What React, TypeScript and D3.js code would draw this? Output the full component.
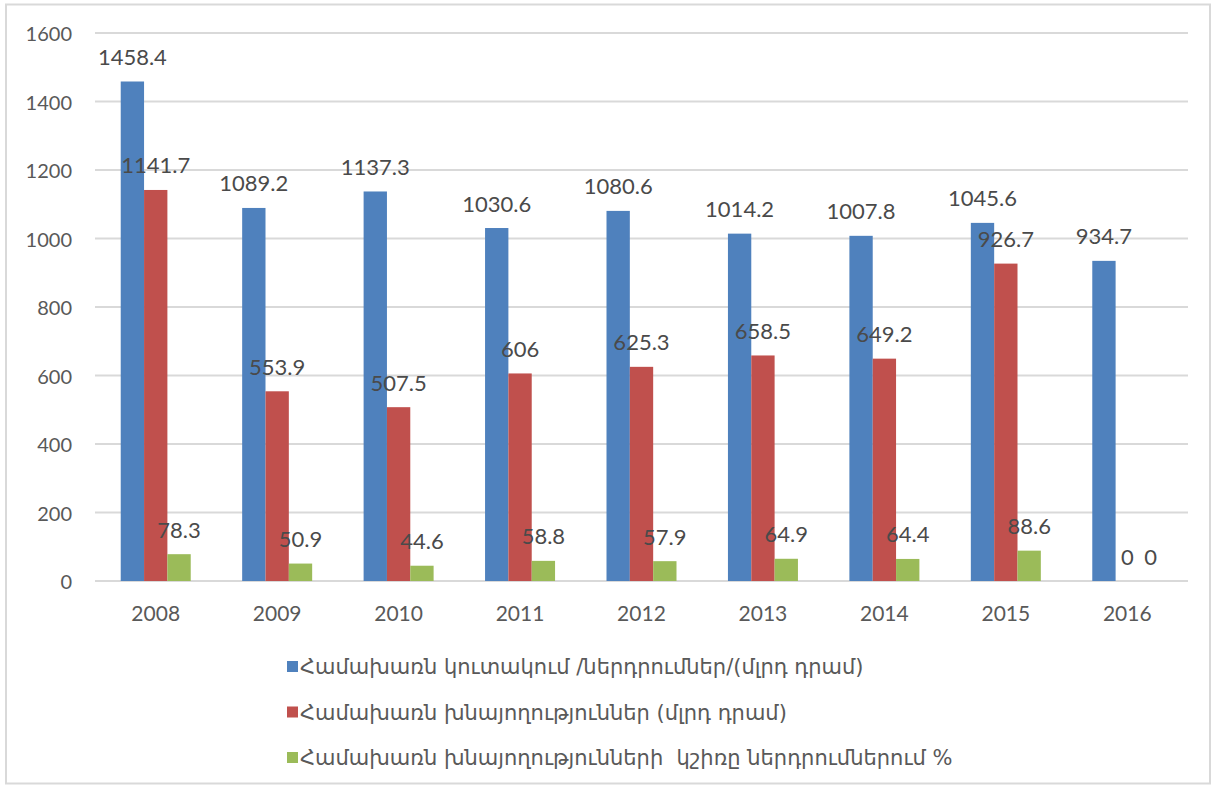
import React from 'react';
import * as d3 from 'd3';

// values
const years = ['2008', '2009', '2010', '2011', '2012', '2013', '2014', '2015', '2016'];
const savingsTotal = [1458.4, 1089.2, 1137.3, 1030.6, 1080.6, 1014.2, 1007.8, 1045.6, 934.7];
const savings = [1141.7, 553.9, 507.5, 606, 625.3, 658.5, 649.2, 926.7, 0];
const savingsShare = [78.3, 50.9, 44.6, 58.8, 57.9, 64.9, 64.4, 88.6, 0];
const yTicks = [0, 200, 400, 600, 800, 1000, 1200, 1400, 1600];

const seriesNames = [
  'Համախառն կուտակում /ներդրումներ/(մլրդ դրամ)',
  'Համախառն խնայողություններ (մլրդ դրամ)',
  'Համախառն խնայողությունների  կշիռը ներդրումներում %',
];
const colors = ['#4F81BD', '#C0504D', '#9BBB59'];
const series = [savingsTotal, savings, savingsShare];

const W = 1215;
const H = 787;
const margin = { left: 95, right: 27, top: 33, bottom: 206 };

export default function App() {
  const x0 = d3.scaleBand().domain(years).range([margin.left, W - margin.right]).padding(0);
  const groupW = 70;
  const x1 = d3
    .scaleBand()
    .domain(['0', '1', '2'])
    .range([(x0.bandwidth() - groupW) / 2, (x0.bandwidth() + groupW) / 2]);
  const y = d3.scaleLinear().domain([0, 1600]).range([H - margin.bottom, margin.top]);

  const textColor = '#595959';
  const numFont = 'Lato, "Liberation Sans", sans-serif';

  return (
    <svg
      width={W}
      height={H}
      style={{ position: 'absolute', left: 0, top: 0, background: '#fff' }}
    >
      <rect x={6} y={4.5} width={W - 11} height={H - 8} fill="#fff" stroke="#D9D9D9" strokeWidth={2} />

      {/* gridlines + y labels */}
      {yTicks.map((t) => (
        <g key={t}>
          <line x1={margin.left} x2={W - margin.right} y1={y(t)} y2={y(t)} stroke="#D9D9D9" strokeWidth={2} />
          <text
            x={72}
            y={y(t)}
            textAnchor="end"
            dominantBaseline="central"
            fontFamily={numFont}
            fontSize={20}
            fill={textColor}
          >
            {t}
          </text>
        </g>
      ))}

      {/* bars */}
      {years.map((yr, i) => (
        <g key={yr} transform={`translate(${x0(yr)},0)`}>
          {series.map((s, k) => (
            <rect
              key={k}
              x={x1(String(k))}
              y={y(s[i])}
              width={x1.bandwidth()}
              height={y(0) - y(s[i])}
              fill={colors[k]}
            />
          ))}
          <text
            x={x0.bandwidth() / 2}
            y={612}
            textAnchor="middle"
            dominantBaseline="central"
            fontFamily={numFont}
            fontSize={21}
            fill={textColor}
          >
            {yr}
          </text>
        </g>
      ))}

      {/* data labels */}
      {years.map((yr, i) => (
        <g key={'l' + yr} transform={`translate(${x0(yr)},0)`}>
          {series.map((s, k) => (
            <text
              key={k}
              x={(x1(String(k)) as number) + x1.bandwidth() / 2}
              y={y(s[i]) - 25}
              textAnchor="middle"
              dominantBaseline="central"
              fontFamily={numFont}
              fontSize={22}
              fill="#4a4a4a"
            >
              {String(s[i])}
            </text>
          ))}
        </g>
      ))}

      {/* legend */}
      {seriesNames.map((name, k) => {
        const cy = 667 + k * 45.5;
        return (
          <g key={name}>
            <rect x={287} y={cy - 6} width={11} height={11} fill={colors[k]} />
            <text
              x={300}
              y={cy}
              dominantBaseline="central"
              fontFamily='"DejaVu Sans", sans-serif'
              fontSize={21}
              fill={textColor}
              style={{ whiteSpace: 'pre' }}
            >
              {name}
            </text>
          </g>
        );
      })}
    </svg>
  );
}
